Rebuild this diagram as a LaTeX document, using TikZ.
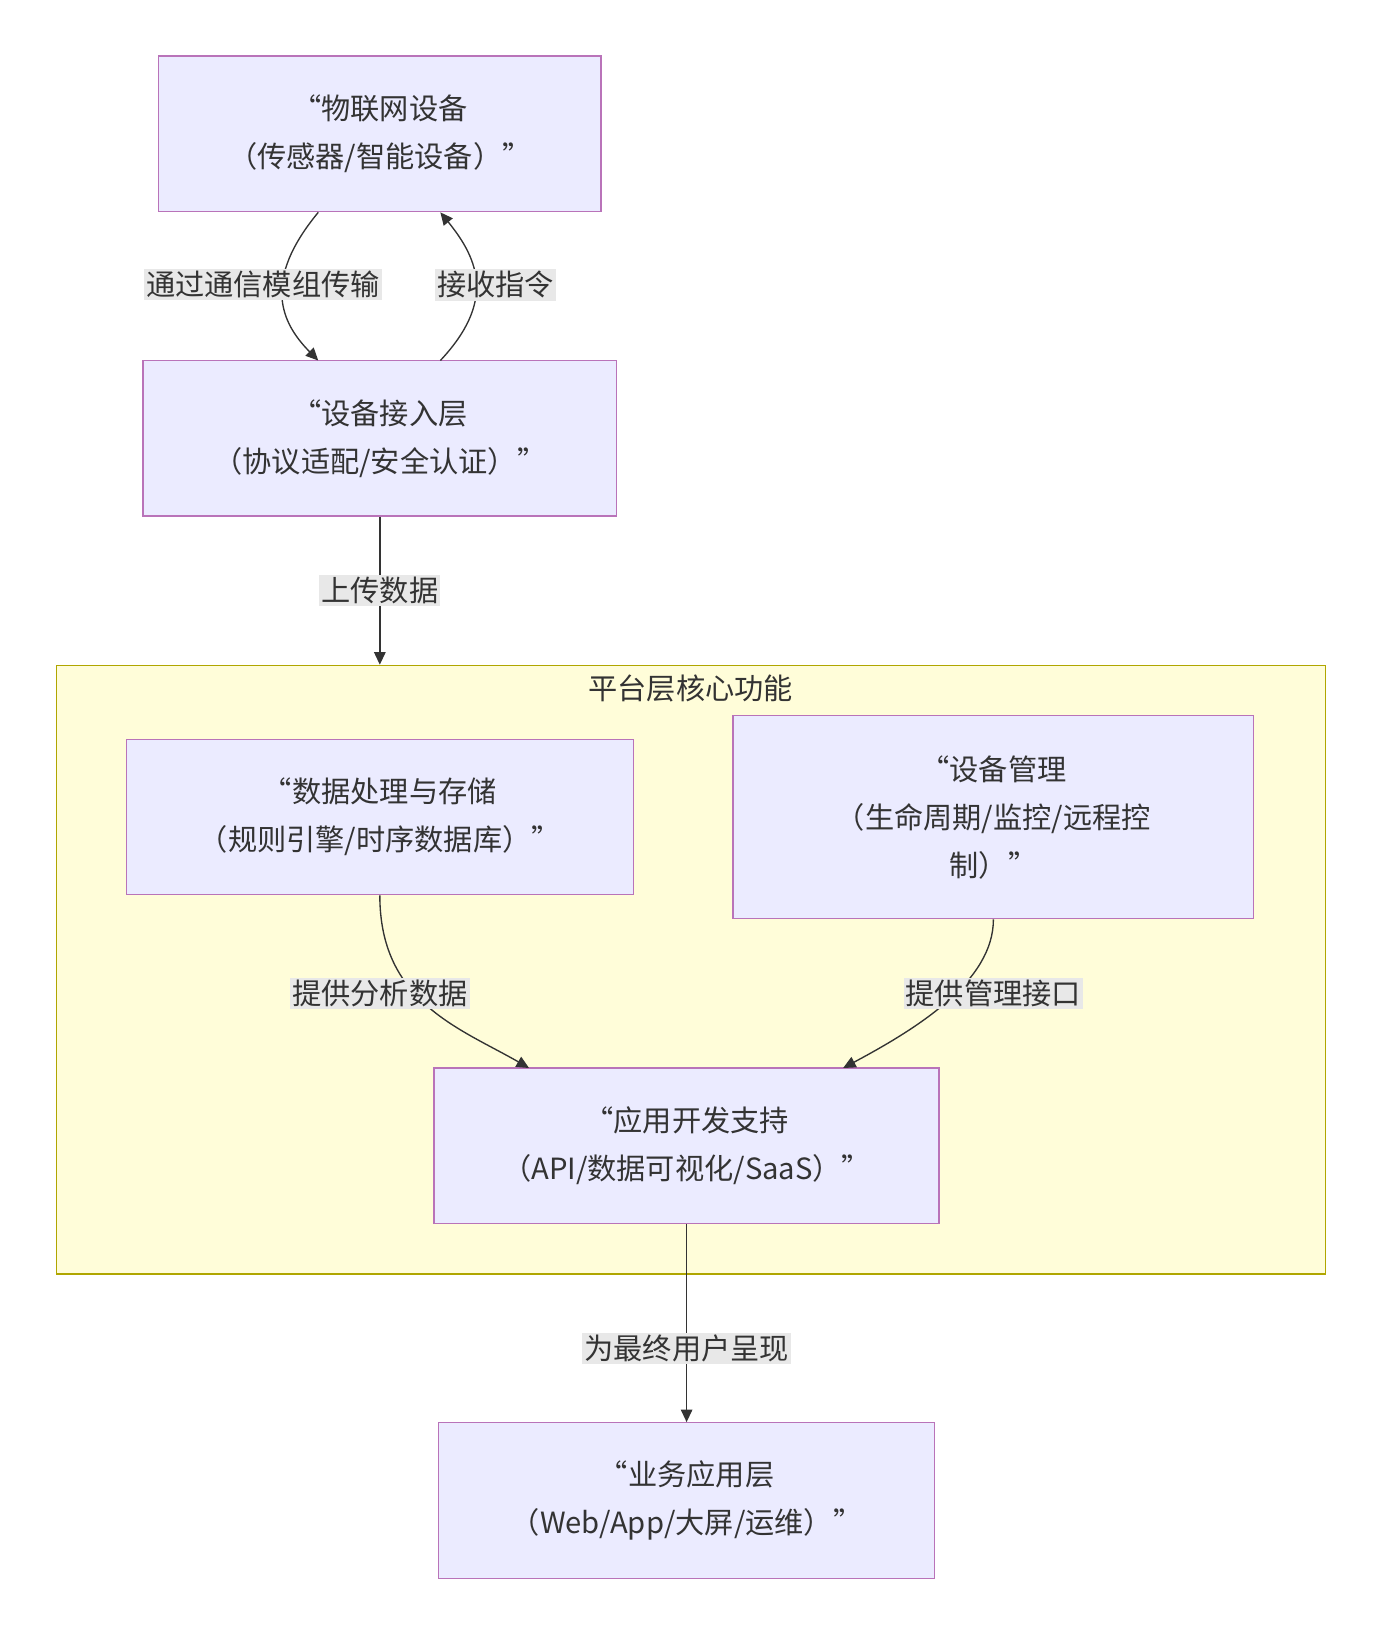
\documentclass[tikz,border=0pt]{standalone}
\usepackage{fontspec}
\setmainfont{Noto Sans CJK SC}
\usetikzlibrary{arrows.meta}
\begin{document}
\begin{tikzpicture}[x=1pt,y=-1pt,
 box/.style={draw=violet!55!white,line width=1.3pt,fill=blue!8,rectangle,align=center,text=black!80,font=\fontsize{28}{46}\selectfont,inner sep=0pt},
 lbl/.style={fill=gray!18,text=black!80,font=\fontsize{28}{34}\selectfont,inner sep=2pt},
 arr/.style={draw=black!80,line width=1.3pt,-{Triangle[length=12pt,width=11pt]}}]
\useasboundingbox (0,0) rectangle (1320,1564);
\fill[yellow!15] (54,638) rectangle (1270,1221);
\draw[olive!70!yellow,line width=1.3pt] (54,638) rectangle (1270,1221);
\node[font=\fontsize{28}{34}\selectfont,text=black!80] (t) at (662,660) {平台层核心功能};
\node[box,minimum width=424pt,minimum height=149pt] (A) at (364,128) {“物联网设备\\（传感器/智能设备）”};
\node[box,minimum width=454pt,minimum height=149pt] (B) at (364,420) {“设备接入层\\（协议适配/安全认证）”};
\node[box,minimum width=486pt,minimum height=149pt] (C) at (364,783) {“数据处理与存储\\（规则引擎/时序数据库）”};
\node[box,minimum width=499pt,minimum height=195pt] (D) at (952,783) {“设备管理\\（生命周期/监控/远程控\\制）”};
\node[box,minimum width=484pt,minimum height=149pt] (E) at (658,1098) {“应用开发支持\\（API/数据可视化/SaaS）”};
\node[box,minimum width=475pt,minimum height=149pt] (F) at (658,1438) {“业务应用层\\（Web/App/大屏/运维）”};
\coordinate (a1) at (305,203.5); \coordinate (b1) at (305,345.5);
\coordinate (b2) at (422,345.5); \coordinate (a2) at (422,203.5);
\coordinate (k) at (364,637);
\coordinate (e1) at (507,1023.5); \coordinate (e2) at (808,1023.5);
\draw[arr] (a1) .. controls (250,270) and (270,310) .. (b1);
\draw[arr] (b2) .. controls (474,290) and (460,250) .. (a2);
\draw[arr] (B.south) -- (k);
\draw[arr] (C.south) .. controls (364,960) and (440,985) .. (e1);
\draw[arr] (D.south) .. controls (952,940) and (880,985) .. (e2);
\draw[arr] (E.south) -- (F.north);
\node[lbl] (l1) at (252,273) {通过通信模组传输};
\node[lbl] (l2) at (475,273) {接收指令};
\node[lbl] (l3) at (364,566) {上传数据};
\node[lbl] (l4) at (364,952) {提供分析数据};
\node[lbl] (l5) at (952,952) {提供管理接口};
\node[lbl] (l6) at (658,1292) {为最终用户呈现};
\end{tikzpicture}
\end{document}
